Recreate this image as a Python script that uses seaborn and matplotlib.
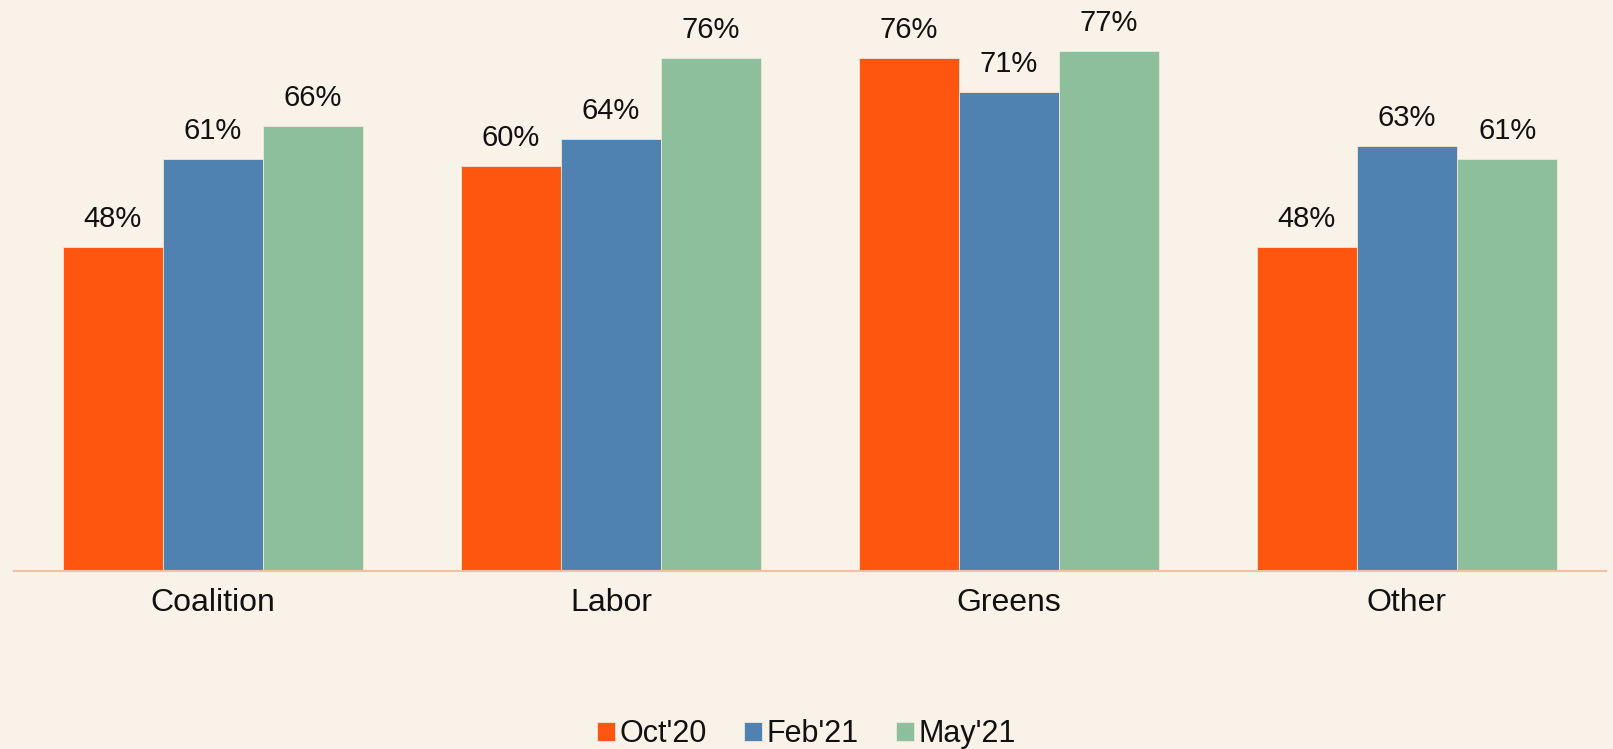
import matplotlib
matplotlib.use("Agg")
import matplotlib.pyplot as plt
import seaborn as sns
import pandas as pd

# Data
parties = ["Coalition", "Labor", "Greens", "Other"]
waves = ["Oct'20", "Feb'21", "May'21"]
oct20 = [48, 60, 76, 48]
feb21 = [61, 64, 71, 63]
may21 = [66, 76, 77, 61]

colors = ["#FF560F", "#4F81B1", "#8EBF9D"]
bg = "#F9F2E8"

sns.set_theme(style="white")
plt.rcParams.update({
    "font.family": ["Liberation Sans", "DejaVu Sans"],
    "figure.facecolor": bg,
    "axes.facecolor": bg,
    "savefig.facecolor": bg,
    "text.color": "#111111",
})

rows = []
for w, vals in zip(waves, [oct20, feb21, may21]):
    for p, v in zip(parties, vals):
        rows.append({"party": p, "wave": w, "value": v})
df = pd.DataFrame(rows)

fig = plt.figure(figsize=(16.13, 7.49), dpi=100)
ax = fig.add_axes([14 / 1613, 178 / 749, 1592 / 1613, 571 / 749])

sns.barplot(data=df, x="party", y="value", hue="wave", order=parties,
            hue_order=waves, palette=colors, width=0.755, gap=0,
            saturation=1, edgecolor="#F2E6DA", linewidth=0.6, ax=ax)

for cont in ax.containers:
    ax.bar_label(cont, labels=[f"{int(v)}%" for v in cont.datavalues],
                 padding=10, fontsize=21, color="#111111")

ax.set_xlim(-0.5, 3.5)
ax.set_ylim(0, 571 / 6.75)
ax.set_xlabel("")
ax.set_ylabel("")
ax.set_yticks([])
ax.tick_params(axis="x", length=0, labelsize=23, pad=12, colors="#111111")
for s in ["top", "left", "right"]:
    ax.spines[s].set_visible(False)
ax.spines["bottom"].set_color("#F8BFA0")
ax.spines["bottom"].set_linewidth(1.5)

handles, labels = ax.get_legend_handles_labels()
ax.get_legend().remove()
leg = fig.legend(handles, labels, loc="lower center",
                 bbox_to_anchor=(0.5, -0.037), ncol=3, frameon=False,
                 fontsize=22, handlelength=0.6, handleheight=0.6,
                 handletextpad=0.15, columnspacing=1.2)
for t in leg.get_texts():
    t.set_color("#111111")

fig.savefig("out.png", dpi=100)
